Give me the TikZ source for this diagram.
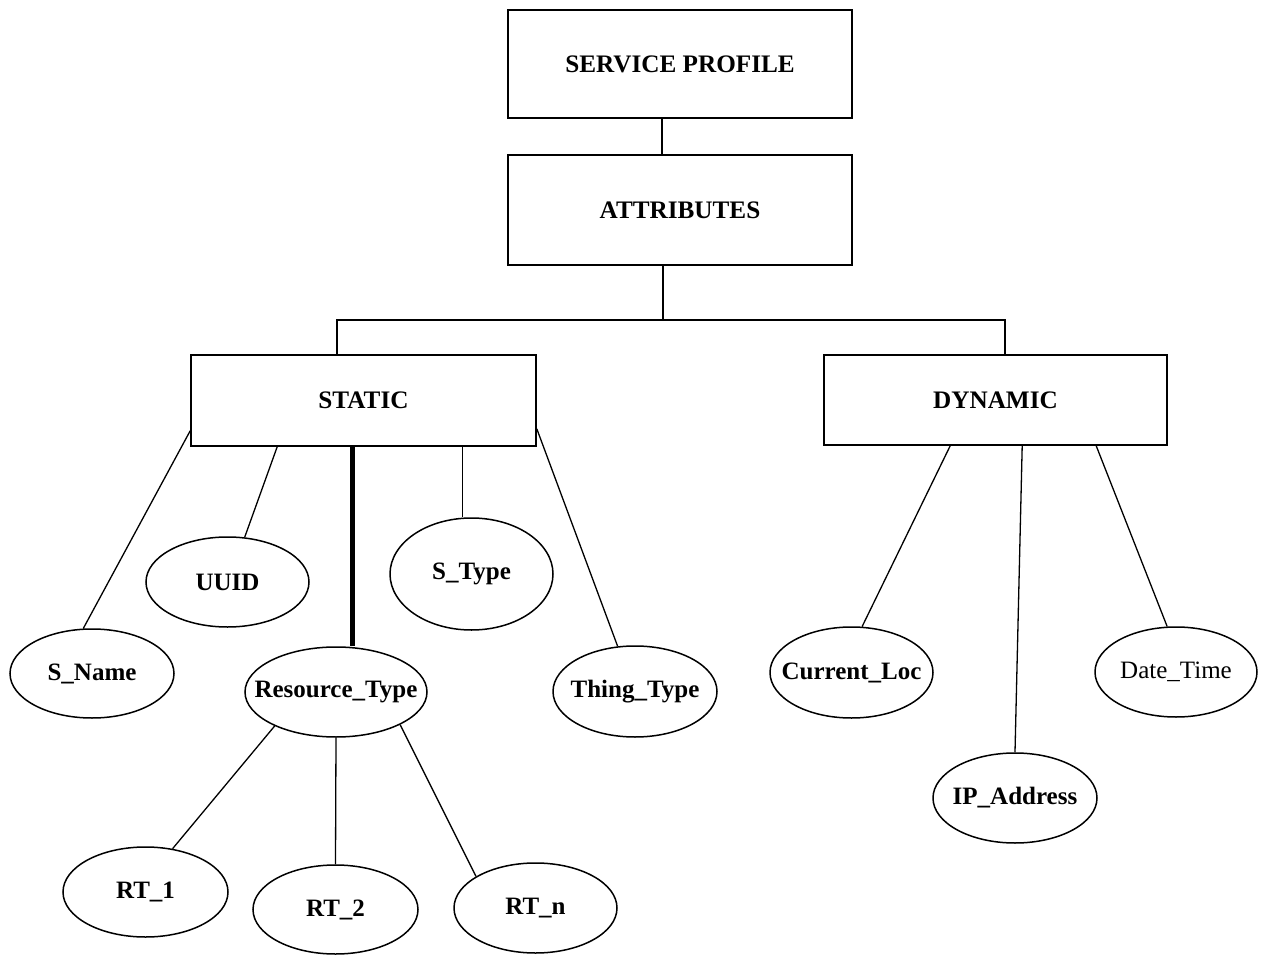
\documentclass[tikz,border=0pt]{standalone}
\usepackage{fontspec}
\setmainfont{Liberation Serif}
\usetikzlibrary{shapes.geometric}
\tikzset{
  box/.style={draw, line width=1.6pt, inner sep=0pt, font=\fontsize{25.2}{28}\selectfont\bfseries},
  ell/.style={draw, ellipse, line width=1.5pt, inner sep=0pt},
  lbl/.style={font=\fontsize{25}{28}\selectfont\bfseries},
  lblr/.style={font=\fontsize{25}{28}\selectfont},
  conn/.style={line width=1.3pt},
  thick conn/.style={line width=5pt}
}
\begin{document}
\begin{tikzpicture}[x=1pt,y=-1pt]
\useasboundingbox[fill=white] (0,0) rectangle (1267,955);
% boxes
\node[box, minimum width=344pt, minimum height=108pt] (sp) at (680,64) {SERVICE PROFILE};
\node[box, minimum width=344pt, minimum height=110pt] (attr) at (680,210) {ATTRIBUTES};
\node[box, minimum width=345pt, minimum height=91pt] (static) at (363.5,400.5) {STATIC};
\node[box, minimum width=343pt, minimum height=90pt] (dynamic) at (995.5,400) {DYNAMIC};
% ellipses
\node[ell, minimum width=164pt, minimum height=89pt, label={[lbl,name=snamel]center:S\_Name}] (sname) at (92,673.5) {};
\node[ell, minimum width=163pt, minimum height=90pt, label={[lbl,name=uuidl]center:UUID}] (uuid) at (227.5,582) {};
\node[ell, minimum width=163pt, minimum height=112pt, label={[lbl,name=stypel]center:S\_Type}] (stype) at (471.5,574) {};
\node[ell, minimum width=182pt, minimum height=90pt, label={[lbl,name=rtl]center:Resource\_Type}] (rt) at (336,692) {};
\node[ell, minimum width=164pt, minimum height=91pt, label={[lbl,name=thingl]center:Thing\_Type}] (thing) at (635,691.5) {};
\node[ell, minimum width=165pt, minimum height=90pt, label={[lbl,name=rt1l]center:RT\_1}] (rt1) at (145.5,892) {};
\node[ell, minimum width=165pt, minimum height=89pt, label={[lbl,name=rt2l]center:RT\_2}] (rt2) at (335.5,909.5) {};
\node[ell, minimum width=163pt, minimum height=90pt, label={[lbl,name=rtnl]center:RT\_n}] (rtn) at (535.5,908) {};
\node[ell, minimum width=163pt, minimum height=91pt, label={[lbl,name=curl]center:Current\_Loc}] (cur) at (851.5,672.5) {};
\node[ell, minimum width=162pt, minimum height=90pt, label={[lblr,name=datel]center:Date\_Time}] (date) at (1176,672) {};
\node[ell, minimum width=164pt, minimum height=90pt, label={[lbl,name=ipl]center:IP\_Address}] (ip) at (1015,798) {};
% tree connectors
\coordinate (jR) at (1005,320);
\draw[conn] ([xshift=-18pt]sp.south) -- ([xshift=-18pt]attr.north);
\draw[conn] ([xshift=-17pt]attr.south) -- ([xshift=-17pt]attr.south |- jR);
\draw[conn] ([xshift=-26.5pt]static.north) |- (jR) -- ([xshift=9.5pt]dynamic.north);
% static children
\draw[conn] ([yshift=16pt]static.south west) -- (sname.101);
\draw[conn] ([xshift=87pt]static.south west) -- (uuid.69);
\draw[thick conn] ([xshift=162pt]static.south west) -- ([xshift=162pt]static.south west |- rt.north);
\draw[conn] ([xshift=272pt]static.south west) -- ([xshift=272pt]static.south west |- stype.north);
\draw[conn] ([yshift=18pt]static.south east) -- (thing.111);
% resource type children
\draw[conn] (rt.209) -- (rt1.58);
\draw[conn] (rt.south) -- (rt2.north);
\draw[conn] (rt.-27) -- (rtn.152);
% dynamic children
\draw[conn] ([xshift=127pt]dynamic.south west) -- (cur.77);
\draw[conn] ([xshift=199pt]dynamic.south west) -- (ip.north);
\draw[conn] ([xshift=273pt]dynamic.south west) -- (date.101);
\end{tikzpicture}
\end{document}
